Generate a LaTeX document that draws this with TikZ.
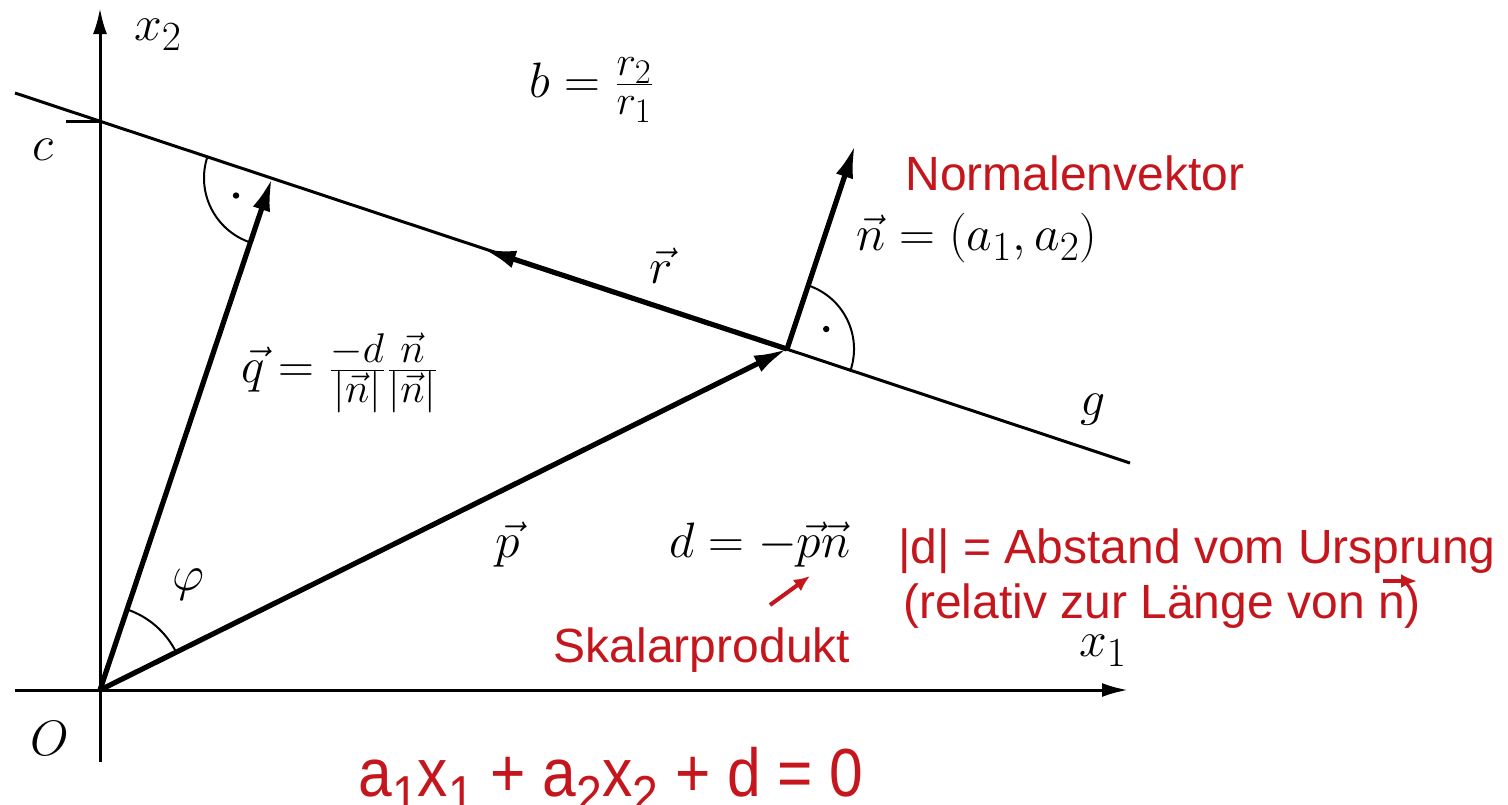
\RequirePackage{fix-cm}
\documentclass[tikz,border=0pt]{standalone}
\usepackage{fontspec}
\newfontfamily\arial{Liberation Sans}
\usetikzlibrary{arrows.meta,calc}
\definecolor{myred}{RGB}{196,22,28}
\newcommand{\eqsub}[1]{\raisebox{-0.24em}{\fontsize{26}{30}\selectfont #1}}
\begin{document}
\begin{tikzpicture}[x=0.5pt,y=-0.5pt,
  axis/.style={line width=1.5pt,-{Latex[length=13pt,width=7pt]}},
  vecarrow/.style={line width=2.6pt,-{Latex[length=16.5pt,width=9pt]}},
  gline/.style={line width=1.5pt},
  arcline/.style={line width=1pt},
  mathlbl/.style={font=\fontsize{24.88}{30}\selectfont, inner sep=0pt},
  redlbl/.style={font=\arial\fontsize{24}{29}\selectfont, text=myred, inner sep=0pt},
  redarrow/.style={draw=myred,line width=2pt,-{Latex[length=8pt,width=7pt]}},
]
\useasboundingbox (0,0) rectangle (1508,804);
% points
\coordinate (O) at (100,690);
\coordinate (X1s) at (15,690);
\coordinate (X1e) at (1128,690);
\coordinate (X2s) at (100,762);
\coordinate (X2e) at (100,8);
\coordinate (G1) at (15,93);
\coordinate (G2) at (1130,463);
\coordinate (C) at (100,121);
\coordinate (Ct) at (66,121);
\coordinate (P) at (787,349);
\coordinate (Q) at (272,178);
\coordinate (N) at (855,145);
\coordinate (R) at (483,249);
% axes and line
\draw[axis] (X1s) -- (X1e);
\draw[axis] (X2s) -- (X2e);
\draw[gline] (G1) -- (G2);
\draw[gline] (Ct) -- (C);
% vectors
\draw[vecarrow] (O) -- (Q);
\draw[vecarrow] (O) -- (P);
\draw[vecarrow] (P) -- (N);
\draw[vecarrow] (P) -- (R);
% angles
\draw[arcline] ($(Q)+(108.57:68)$) arc (108.57:198.36:68);
\fill ($(Q)+(154:40)$) circle (3.2);
\draw[arcline] ($(P)+(-71.57:67)$) arc (-71.57:18.36:67);
\fill ($(P)+(-27:44)$) circle (3.2);
\draw[arcline] ($(O)+(-71.43:85)$) arc (-71.43:-26.4:85);
% math labels
\node[mathlbl] (lx2) at (158,35) {$x_2$};
\node[mathlbl] (lc) at (43,150) {$c$};
\node[mathlbl] (lb) at (592,90) {$b=\frac{r_2}{r_1}$};
\node[mathlbl] (ln) at (977,238) {$\vec{n}=(a_1,a_2)$};
\node[mathlbl] (lr) at (661,266) {$\vec{r}$};
\node[mathlbl] (lq) at (340,373) {$\vec{q}=\frac{-d}{|\vec{n}|}\frac{\vec{n}}{|\vec{n}|}$};
\node[mathlbl] (lg) at (1093,410) {$g$};
\node[mathlbl] (lp) at (508,545) {$\vec{p}$};
\node[mathlbl] (ld) at (760,545) {$d=-\vec{p}\vec{n}$};
\node[mathlbl] (lx1) at (1103,651) {$x_1$};
\node[mathlbl] (lphi) at (188,585) {$\varphi$};
\node[mathlbl] (lO) at (50,738) {$O$};
% red labels
\node[redlbl,anchor=base] (lnorm) at (1075,190) {Normalenvektor};
\node[redlbl,anchor=base] (labst) at (1197,563) {|d| = Abstand vom Ursprung};
\node[redlbl,anchor=base] (lrel) at (1162,618) {(relativ zur Länge von n)};
\node[redlbl,anchor=base] (lskal) at (702,662) {Skalarprodukt};
\node[redlbl,anchor=base,font=\arial\fontsize{34}{40}\selectfont] (leq) at (611,796)
  {\scalebox{0.89}[1]{a\eqsub{1}x\eqsub{1} + a\eqsub{2}x\eqsub{2} + d = 0}};
% red arrows
\coordinate (SkA) at (770,605);
\coordinate (SkB) at (810,576);
\draw[redarrow] (SkA) -- (SkB);
\coordinate (VnA) at (1383,581);
\coordinate (VnB) at (1417,581);
\draw[redarrow] (VnA) -- (VnB);
\end{tikzpicture}
\end{document}
